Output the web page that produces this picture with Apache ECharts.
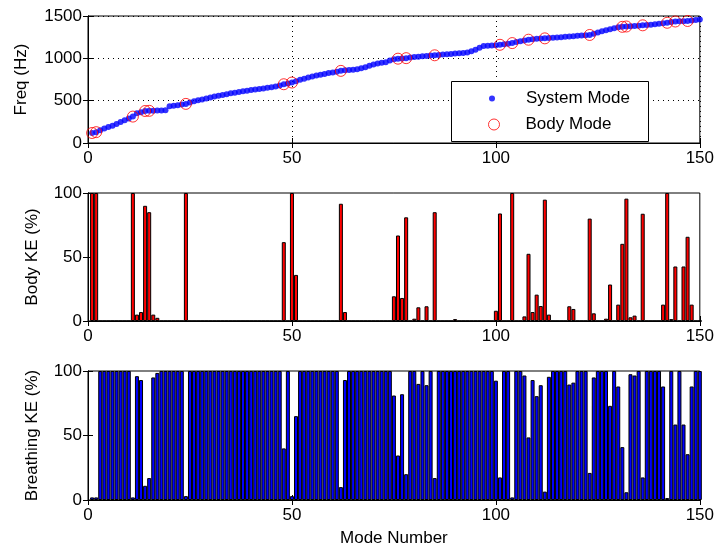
<!DOCTYPE html>
<html>
<head>
<meta charset="utf-8">
<script src="https://cdn.jsdelivr.net/npm/echarts@6/dist/echarts.min.js"></script>
<style>
html, body { margin: 0; padding: 0; background: #fff; }
#chart { width: 717px; height: 550px; }
</style>
</head>
<body>
<div id="chart"></div>
<script>
// mode numbers 1..150
let modes = [];
for (let i = 1; i <= 150; i++) modes.push(i);

// system mode frequency (Hz)
let freq = [
	118, 128, 150, 170, 188, 205, 225, 248, 268, 290,
	312, 350, 362, 378, 380, 382, 383, 385, 388, 435,
	440, 447, 455, 462, 478, 492, 505, 515, 527, 538,
	548, 557, 566, 576, 587, 594, 602, 610, 618, 626,
	632, 638, 645, 652, 659, 668, 680, 694, 704, 714,
	730, 746, 760, 774, 786, 796, 806, 816, 826, 834,
	843, 852, 858, 861, 864, 870, 882, 896, 912, 928,
	940, 948, 955, 975, 990, 996, 999, 1002, 1010, 1016,
	1020, 1024, 1028, 1032, 1036, 1040, 1044, 1048, 1052, 1056,
	1060, 1064, 1070, 1085, 1102, 1125, 1145, 1150, 1153, 1156,
	1160, 1166, 1172, 1180, 1192, 1202, 1212, 1220, 1226, 1230,
	1233, 1236, 1240, 1242, 1245, 1250, 1254, 1258, 1262, 1266,
	1270, 1272, 1276, 1290, 1305, 1320, 1333, 1344, 1355, 1366,
	1372, 1376, 1380, 1383, 1386, 1390, 1394, 1398, 1403, 1408,
	1414, 1420, 1428, 1435, 1437, 1439, 1441, 1446, 1452, 1460
];

// modes marked as body modes (red circles)
let bodyModes = [1, 2, 11, 14, 15, 24, 48, 50, 62, 76, 78, 85, 101, 104, 108, 112, 123, 131, 132, 136, 142, 144, 147];

// body kinetic energy (%)
let bodyKE = [
	100, 100, 0, 0, 0, 0, 0, 0, 0, 0,
	100, 5, 7, 90, 85, 5, 2.5, 0, 0, 0,
	0, 0, 0, 100, 0, 0, 0, 0, 0, 0,
	0, 0, 0, 0, 0, 0, 0, 0, 0, 0,
	0, 0, 0, 0, 0, 0, 0, 61.6, 0, 100,
	36, 0, 0, 0, 0, 0, 0, 0, 0, 0,
	0, 91.6, 7, 0, 0, 0, 0, 0, 0, 0,
	0, 0, 0, 0, 19.3, 66.8, 18, 81, 0, 1.8,
	10.7, 0, 11.5, 0, 85, 0, 0, 0, 0, 1.5,
	0, 0, 0, 0, 0, 0, 0, 0, 0, 8,
	84, 0, 0, 100, 0, 0, 3.6, 52.5, 7, 20.6,
	11.7, 94.8, 5, 0, 0, 0, 0, 11.5, 9.4, 0,
	0, 0, 80, 6, 0, 0, 1.8, 28.5, 0, 12.8,
	60.3, 95.6, 2.9, 4.2, 0, 83.8, 0, 0, 0, 0,
	12.8, 100, 1.5, 42.6, 0, 42.6, 65.8, 12.8, 0, 0
];

// breathing kinetic energy (%)
let breathingKE = [
	2, 2, 100, 100, 100, 100, 100, 100, 100, 100,
	2, 96, 93, 11, 17, 95, 98.5, 100, 100, 100,
	100, 100, 100, 3, 100, 100, 100, 100, 100, 100,
	100, 100, 100, 100, 100, 100, 100, 100, 100, 100,
	100, 100, 100, 100, 100, 100, 100, 40, 100, 3,
	65, 100, 100, 100, 100, 100, 100, 100, 100, 100,
	100, 10, 93, 100, 100, 100, 100, 100, 100, 100,
	100, 100, 100, 100, 81, 34.5, 82, 20, 100, 100,
	90, 100, 89, 100, 17, 100, 100, 100, 100, 100,
	100, 100, 100, 100, 100, 100, 100, 100, 100, 92.5,
	17.5, 100, 100, 2, 100, 100, 96.5, 48.5, 93, 80.5,
	89, 6.5, 95.5, 100, 100, 100, 100, 89.5, 91, 100,
	100, 100, 21, 95, 100, 100, 100, 73, 100, 88,
	41, 6, 97.5, 96.5, 100, 17.5, 100, 100, 100, 100,
	88, 1.5, 100, 58.5, 100, 58.5, 35.5, 88, 100, 100
];

let xTicks = [0, 50, 100, 150];

let chart = echarts.init(document.getElementById("chart"), null, { renderer: "canvas" });

let font = "Liberation Sans, Arial, sans-serif";
let fs = 17;

let grids = [
	{ left: 88, top: 16, width: 616, height: 127 },
	{ left: 88, top: 193, width: 616, height: 128 },
	{ left: 88, top: 371, width: 616, height: 129 }
];
grids.forEach(function (g) {
	g.show = true;
	g.borderColor = "#000";
	g.borderWidth = 1;
	g.backgroundColor = "#fff";
});

function xAx(gi, pos, labels, grid) {
	return {
		type: "value", gridIndex: gi, position: pos,
		min: xTicks[0], max: xTicks[xTicks.length - 1], interval: 50,
		axisLine: { show: true, lineStyle: { color: "#000", width: 1 } },
		axisTick: { show: true, inside: true, length: 5, lineStyle: { color: "#000" } },
		axisLabel: { show: labels, color: "#000", fontFamily: font, fontSize: fs, margin: 7 },
		splitLine: { show: !!grid, lineStyle: { color: "#000", type: [1, 4], width: 1 } }
	};
}

function yAx(gi, pos, max, step, name, gap, grid) {
	return {
		type: "value", gridIndex: gi, position: pos,
		min: 0, max: max, interval: step,
		name: name, nameLocation: "middle", nameGap: gap, nameRotate: 90,
		nameTextStyle: { color: "#000", fontFamily: font, fontSize: fs },
		axisLine: { show: true, lineStyle: { color: "#000", width: 1 } },
		axisTick: { show: true, inside: true, length: 5, lineStyle: { color: "#000" } },
		axisLabel: {
			show: pos === "left", color: "#000", fontFamily: font, fontSize: fs, margin: 6,
			formatter: function (v) { return String(v); }
		},
		splitLine: { show: !!grid, lineStyle: { color: "#000", type: [1, 4], width: 1 } }
	};
}

let xAxes = [
	xAx(0, "bottom", true, true), xAx(0, "top", false),
	xAx(1, "bottom", true), xAx(1, "top", false),
	xAx(2, "bottom", true), xAx(2, "top", false)
];
xAxes[4].name = "Mode Number";
xAxes[4].nameLocation = "middle";
xAxes[4].nameGap = 30;
xAxes[4].nameTextStyle = { color: "#000", fontFamily: font, fontSize: fs };

let yAxes = [
	yAx(0, "left", 1500, 500, "Freq (Hz)", 58, true), yAx(0, "right", 1500, 500, ""),
	yAx(1, "left", 100, 50, "Body KE (%)", 47), yAx(1, "right", 100, 50, ""),
	yAx(2, "left", 100, 50, "Breathing KE (%)", 47), yAx(2, "right", 100, 50, "")
];

let option = {
	animation: false,
	backgroundColor: "#fff",
	grid: grids,
	xAxis: xAxes,
	yAxis: yAxes,
	graphic: [{
		type: "rect", z: 3,
		shape: { x: 451.5, y: 81.5, width: 197, height: 60 },
		style: { fill: "#fff", stroke: "#000", lineWidth: 1 }
	}],
	legend: [{
		data: [{ name: "System Mode", icon: "circle" }],
		left: 489, top: 90, padding: 0, z: 5,
		itemWidth: 6, itemHeight: 6,
		textStyle: { color: "#000", fontFamily: font, fontSize: fs, padding: [0, 0, 0, 26] }
	}, {
		data: [{ name: "Body Mode", icon: "circle", itemStyle: { color: "rgba(0,0,0,0)", borderColor: "#ff0000", borderWidth: 1 } }],
		left: 488, top: 116, padding: 0, z: 5,
		itemWidth: 11, itemHeight: 11,
		textStyle: { color: "#000", fontFamily: font, fontSize: fs, padding: [0, 0, 0, 21] }
	}],
	series: [{
		name: "System Mode", type: "scatter",
		xAxisIndex: 0, yAxisIndex: 0,
		symbol: "circle", symbolSize: 6,
		itemStyle: { color: "#0000ff" },
		data: modes.map(function (m, i) { return [m, freq[i]]; })
	}, {
		name: "Body Mode", type: "scatter",
		xAxisIndex: 0, yAxisIndex: 0, z: 3,
		symbol: "circle", symbolSize: 11,
		itemStyle: { color: "rgba(0,0,0,0)", borderColor: "#ff0000", borderWidth: 1 },
		data: bodyModes.map(function (m) { return [m, freq[m - 1]]; })
	}, {
		name: "Body KE", type: "bar",
		xAxisIndex: 2, yAxisIndex: 2,
		barWidth: 4,
		itemStyle: { color: "#ff0000", borderColor: "#000", borderWidth: 1 },
		data: modes.map(function (m, i) { return [m, bodyKE[i]]; })
	}, {
		name: "Breathing KE", type: "bar",
		xAxisIndex: 4, yAxisIndex: 4,
		barWidth: 4,
		itemStyle: { color: "#0000ff", borderColor: "#000", borderWidth: 1 },
		data: modes.map(function (m, i) { return [m, breathingKE[i]]; })
	}]
};

chart.setOption(option);
</script>
</body>
</html>
